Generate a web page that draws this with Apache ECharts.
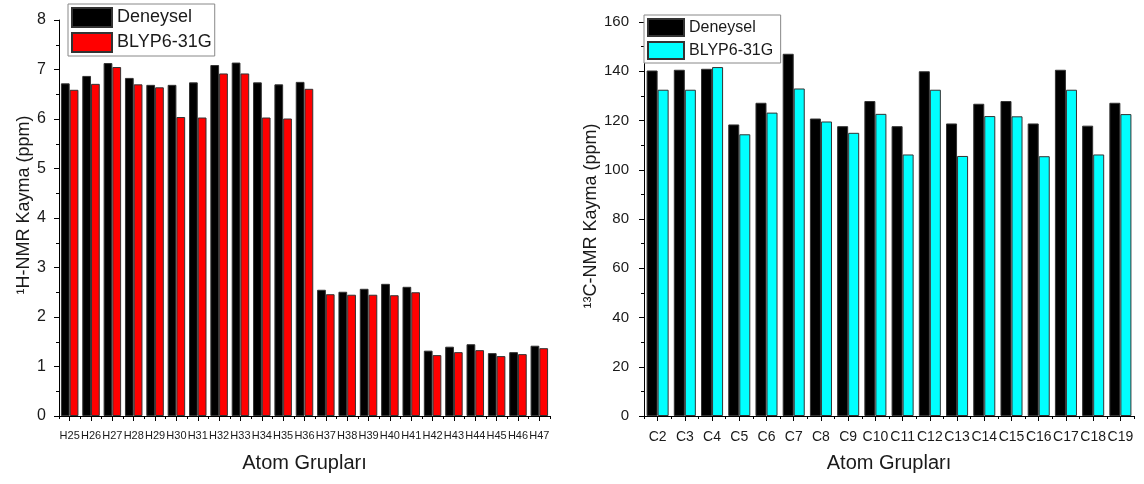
<!DOCTYPE html>
<html>
<head>
<meta charset="utf-8">
<script src="https://cdn.jsdelivr.net/npm/echarts@6/dist/echarts.min.js"></script>
<style>
html,body{margin:0;padding:0;background:#fff;}
#main{width:1144px;height:484px;}
</style>
</head>
<body>
<div id="main"></div>
<script>
// 1H-NMR
var hAtoms = ['H25','H26','H27','H28','H29','H30','H31','H32','H33','H34','H35','H36','H37','H38','H39','H40','H41','H42','H43','H44','H45','H46','H47'];
var hDeneysel = [6.72,6.87,7.13,6.83,6.69,6.69,6.74,7.09,7.14,6.74,6.70,6.75,2.55,2.51,2.57,2.67,2.61,1.32,1.40,1.45,1.27,1.29,1.42];
var hBlyp = [6.59,6.71,7.05,6.70,6.64,6.04,6.03,6.92,6.92,6.03,6.01,6.61,2.46,2.45,2.45,2.44,2.50,1.23,1.29,1.33,1.21,1.25,1.37];
// 13C-NMR
var cAtoms = ['C2','C3','C4','C5','C6','C7','C8','C9','C10','C11','C12','C13','C14','C15','C16','C17','C18','C19'];
var cDeneysel = [140.3,140.6,141.0,118.4,127.2,147.1,120.8,117.7,127.9,117.7,140.0,118.8,126.8,127.9,118.8,140.6,117.9,127.2];
var cBlyp = [132.5,132.5,141.7,114.4,123.2,133.0,119.6,115.0,122.7,106.2,132.5,105.6,121.8,121.7,105.5,132.5,106.2,122.6];

var FONT = 'Liberation Sans';
var txt = '#1a1a1a';

function yAxisCfg(gridIndex, name, max, interval, gap, fs, margin, namePad){
    return {
        type: 'value', gridIndex: gridIndex, min: 0, max: max, interval: interval,
        name: name, nameLocation: 'middle', nameGap: gap, nameRotate: 90,
        nameTextStyle: {fontFamily: FONT, fontSize: 18, color: txt, padding: namePad},
        axisLine: {show: true, lineStyle: {color: '#000', width: 1}},
        axisTick: {show: true, inside: false, length: 5, lineStyle: {color: '#000'}},
        minorTick: {show: true, splitNumber: 2, length: 3, lineStyle: {color: '#000'}},
        splitLine: {show: false},
        axisLabel: {fontFamily: FONT, fontSize: fs, color: txt, margin: margin}
    };
}

function xMain(gridIndex, data, fs){
    return {
        type: 'category', gridIndex: gridIndex, data: data, position: 'bottom',
        name: 'Atom Grupları', nameLocation: 'middle', nameGap: 37,
        nameTextStyle: {fontFamily: FONT, fontSize: 20, color: txt},
        axisLine: {show: true, lineStyle: {color: '#000', width: 1}},
        axisTick: {show: true, alignWithLabel: true, length: 5, lineStyle: {color: '#000'}},
        axisLabel: {interval: 0, fontFamily: FONT, fontSize: fs, color: txt, margin: 14},
        splitLine: {show: false}
    };
}

// second axis only for the short ticks between groups
function xMinor(gridIndex, data){
    return {
        type: 'category', gridIndex: gridIndex, data: data, position: 'bottom',
        axisLine: {show: false},
        axisTick: {show: true, alignWithLabel: false, interval: 0, length: 3, lineStyle: {color: '#000'}},
        axisLabel: {show: false},
        splitLine: {show: false}
    };
}

function legendCfg(left, top, names, fs, w, h){
    return {
        orient: 'vertical', left: left, top: top, data: names,
        itemWidth: w, itemHeight: h, itemGap: 4, padding: [3, 3, 3, 3],
        borderColor: '#888', borderWidth: 1, backgroundColor: '#fff',
        textStyle: {fontFamily: FONT, fontSize: fs, color: txt},
        icon: 'rect'
    };
}

function barSeries(name, data, xi, yi, color, gapPct){
    return {
        name: name, type: 'bar', data: data, xAxisIndex: xi, yAxisIndex: yi,
        barGap: '0%', barCategoryGap: gapPct,
        itemStyle: {color: color, borderColor: '#333', borderWidth: 1},
        emphasis: {disabled: true}
    };
}

var myChart = echarts.init(document.getElementById('main'));
myChart.setOption({
    animation: false,
    backgroundColor: '#fff',
    grid: [
        {left: 59, right: 594, top: 20, bottom: 68, containLabel: false},
        {left: 644, right: 10, top: 22, bottom: 68, containLabel: false}
    ],
    legend: [
        legendCfg(68, 4, ['Deneysel', 'BLYP6-31G'], 18, 40, 19),
        legendCfg(644, 15, ['Deneysel ', 'BLYP6-31G '], 16, 36, 17)
    ],
    xAxis: [xMain(0, hAtoms, 11), xMinor(0, hAtoms), xMain(1, cAtoms, 14), xMinor(1, cAtoms)],
    yAxis: [
        yAxisCfg(0, '¹H-NMR Kayma (ppm)', 8, 1, 24, 16, 13, [0, 0, 0, 26]),
        yAxisCfg(1, '¹³C-NMR Kayma (ppm)', 160, 20, 42, 15, 15, [0, 0, 0, 6])
    ],
    series: [
        barSeries('Deneysel', hDeneysel, 0, 0, '#000000', '18%'),
        barSeries('BLYP6-31G', hBlyp, 0, 0, '#ff0000', '18%'),
        barSeries('Deneysel ', cDeneysel, 2, 1, '#000000', '19%'),
        barSeries('BLYP6-31G ', cBlyp, 2, 1, '#00ffff', '19%')
    ]
});
window.addEventListener('resize', function(){
    myChart.resize();
});
</script>
</body>
</html>
